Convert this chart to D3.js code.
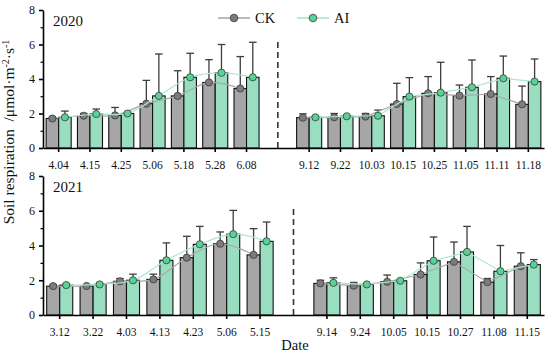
<!DOCTYPE html>
<html>
<head>
<meta charset="utf-8">
<script src="https://cdn.jsdelivr.net/npm/d3@7"></script>
<style>
    body { margin: 0; background: #fff; }
    #chart { width: 550px; height: 355px; }
    text { font-family: "Liberation Serif", "Times New Roman", serif; fill: #111; }
</style>
</head>
<body>
<div id="chart"></div>
<script>
// 2020 campaign
const dates2020a = ["4.04", "4.15", "4.25", "5.06", "5.18", "5.28", "6.08"];
const dates2020b = ["9.12", "9.22", "10.03", "10.15", "10.25", "11.05", "11.11", "11.18"];
const ck2020 = [1.71, 1.87, 1.89, 2.57, 3.02, 3.80, 3.45, 1.76, 1.78, 1.82, 2.55, 3.17, 3.04, 3.13, 2.53];
const ckErr2020 = [0.08, 0.13, 0.46, 1.35, 1.46, 1.32, 1.85, 0.22, 0.22, 0.18, 1.20, 0.97, 0.61, 1.01, 1.06];
const ai2020 = [1.78, 1.97, 2.00, 3.02, 4.10, 4.36, 4.10, 1.78, 1.84, 1.87, 2.98, 3.21, 3.52, 4.04, 3.85];
const aiErr2020 = [0.36, 0.29, 0.05, 2.43, 1.39, 1.64, 2.03, 0.05, 0.05, 0.33, 1.10, 1.76, 1.58, 1.29, 1.31];

// 2021 campaign
const dates2021a = ["3.12", "3.22", "4.03", "4.13", "4.23", "5.06", "5.15"];
const dates2021b = ["9.14", "9.24", "10.05", "10.15", "10.27", "11.08", "11.15"];
const ck2021 = [1.66, 1.67, 1.94, 2.05, 3.30, 4.10, 3.46, 1.82, 1.69, 1.91, 2.33, 3.06, 1.89, 2.81];
const ckErr2021 = [0.08, 0.06, 0.16, 0.30, 1.23, 0.68, 1.51, 0.18, 0.18, 0.39, 0.67, 1.14, 0.21, 0.77];
const ai2021 = [1.72, 1.76, 2.00, 3.15, 4.07, 4.65, 4.24, 1.85, 1.76, 1.97, 3.12, 3.63, 2.52, 2.90];
const aiErr2021 = [0.05, 0.06, 0.35, 1.00, 1.03, 1.37, 1.11, 0.29, 0.04, 0.05, 1.37, 1.47, 1.48, 0.29];

const yMajor = [0, 2, 4, 6, 8];
const yMinor = [1, 3, 5, 7];
const treatments = ["CK", "AI"];

const width = 550, height = 355;
const left = 43, right = 544;

const barFill = { CK: "#a6a6a6", AI: "#9adec1" };
const dotFill = { CK: "#7c7c7c", AI: "#58d296" };
const lineColor = { CK: "#a9a9a9", AI: "#a8e8cb" };

const svg = d3.select("#chart").append("svg")
    .attr("width", width)
    .attr("height", height)
    .attr("viewBox", [0, 0, width, height]);

function drawPanel(cfg) {
    const domain = cfg.datesA.concat(["gap"], cfg.datesB);
    const rows = domain.filter(d => d !== "gap").map((d, i) => ({
        date: d,
        seg: i < cfg.datesA.length ? 0 : 1,
        CK: cfg.ck[i], CKerr: cfg.ckErr[i],
        AI: cfg.ai[i], AIerr: cfg.aiErr[i]
    }));

    const x = d3.scaleBand()
        .domain(domain)
        .range([left, right])
        .paddingInner(cfg.pad)
        .paddingOuter(cfg.pad / 2);
    const x1 = d3.scaleBand().domain(treatments).range([0, x.bandwidth()]);
    const y = d3.scaleLinear().domain([0, 8]).range([cfg.bottom, cfg.top]);

    const g = svg.append("g");

    // dashed separator between spring and autumn campaigns
    g.append("line")
        .attr("x1", x("gap") + x.bandwidth() / 2)
        .attr("x2", x("gap") + x.bandwidth() / 2)
        .attr("y1", y(0))
        .attr("y2", y(6.3))
        .attr("stroke", "#333")
        .attr("stroke-width", 1.6)
        .attr("stroke-dasharray", "6,4");

    const cx = (d, t) => x(d.date) + x1(t) + x1.bandwidth() / 2;

    treatments.forEach(t => {
        g.append("g").selectAll("rect")
            .data(rows)
            .join("rect")
            .attr("x", d => x(d.date) + x1(t))
            .attr("y", d => y(d[t]))
            .attr("width", x1.bandwidth())
            .attr("height", d => y(0) - y(d[t]))
            .attr("fill", barFill[t])
            .attr("stroke", "#111")
            .attr("stroke-width", 1.1);
    });

    treatments.forEach(t => {
        const eg = g.append("g")
            .attr("stroke", "#3d3d3d")
            .attr("stroke-width", 1.3);
        eg.selectAll(".stem")
            .data(rows)
            .join("line")
            .attr("x1", d => cx(d, t))
            .attr("x2", d => cx(d, t))
            .attr("y1", d => y(d[t]))
            .attr("y2", d => y(d[t] + d[t + "err"]));
        eg.selectAll(".cap")
            .data(rows)
            .join("line")
            .attr("x1", d => cx(d, t) - 3.8)
            .attr("x2", d => cx(d, t) + 3.8)
            .attr("y1", d => y(d[t] + d[t + "err"]))
            .attr("y2", d => y(d[t] + d[t + "err"]));
    });

    treatments.forEach(t => {
        [0, 1].forEach(s => {
            const line = d3.line()
                .x(d => cx(d, t))
                .y(d => y(d[t]))
                .curve(s === 0 ? d3.curveCatmullRom : d3.curveLinear);
            g.append("path")
                .attr("d", line(rows.filter(d => d.seg === s)))
                .attr("fill", "none")
                .attr("stroke", lineColor[t])
                .attr("stroke-width", 1.2);
        });
        g.append("g").selectAll("circle")
            .data(rows)
            .join("circle")
            .attr("cx", d => cx(d, t))
            .attr("cy", d => y(d[t]))
            .attr("r", 3.6)
            .attr("fill", dotFill[t])
            .attr("stroke", "#3a3a3a")
            .attr("stroke-width", 0.8);
    });

    // axes
    const xAxis = g.append("g")
        .attr("transform", `translate(0,${y(0)})`)
        .call(d3.axisBottom(x)
            .tickValues(rows.map(d => d.date))
            .tickSize(4)
            .tickSizeOuter(0)
            .tickPadding(9));
    xAxis.selectAll("text").style("font-size", "11.5px").style("font-family", "'Liberation Serif', serif");
    xAxis.selectAll("line, path").attr("stroke", "#000").attr("stroke-width", 1.6);

    const yAxis = g.append("g")
        .attr("transform", `translate(${left},0)`)
        .call(d3.axisLeft(y).tickValues(yMajor).tickSize(4).tickSizeOuter(0).tickPadding(4));
    yAxis.selectAll("text").style("font-size", "12px").style("font-family", "'Liberation Serif', serif");
    yAxis.selectAll("line, path").attr("stroke", "#000").attr("stroke-width", 1.6);

    g.append("g")
        .attr("transform", `translate(${left},0)`)
        .call(d3.axisLeft(y).tickValues(yMinor).tickSize(2.5).tickFormat(""))
        .call(a => a.select(".domain").remove())
        .selectAll("line").attr("stroke", "#000").attr("stroke-width", 1.2);

    g.append("text")
        .attr("x", 53)
        .attr("y", y(8) + 16)
        .style("font-size", "15px")
        .text(cfg.year);
}

drawPanel({
    year: "2020", datesA: dates2020a, datesB: dates2020b,
    ck: ck2020, ckErr: ckErr2020, ai: ai2020, aiErr: aiErr2020,
    top: 10, bottom: 148, pad: 0.2
});

drawPanel({
    year: "2021", datesA: dates2021a, datesB: dates2021b,
    ck: ck2021, ckErr: ckErr2021, ai: ai2021, aiErr: aiErr2021,
    top: 176, bottom: 315, pad: 0.22
});

// legend
const legendItems = [
    { key: "CK", x: 218 },
    { key: "AI", x: 297 }
];
const legend = svg.append("g").selectAll("g")
    .data(legendItems)
    .join("g")
    .attr("transform", d => `translate(${d.x},18)`);
legend.append("line")
    .attr("x1", 0).attr("x2", 32)
    .attr("stroke", d => d.key === "CK" ? "#8c8c8c" : "#8fdcb8")
    .attr("stroke-width", 1.2);
legend.append("circle")
    .attr("cx", 16).attr("r", 3.8)
    .attr("fill", d => dotFill[d.key])
    .attr("stroke", "#3a3a3a")
    .attr("stroke-width", 0.8);
legend.append("text")
    .attr("x", 37)
    .attr("dy", "0.35em")
    .style("font-size", "14.5px")
    .text(d => d.key);

// axis titles
svg.append("text")
    .attr("x", 295)
    .attr("y", 350)
    .attr("text-anchor", "middle")
    .style("font-size", "14.5px")
    .text("Date");

const yTitle = svg.append("text")
    .attr("transform", "translate(14,132) rotate(-90)")
    .attr("text-anchor", "middle")
    .style("font-size", "15.5px");
yTitle.append("tspan").text("Soil respiration\u00a0 /\u03bcmol\u00b7m");
yTitle.append("tspan").attr("dy", -5).style("font-size", "10px").text("-2");
yTitle.append("tspan").attr("dy", 5).text("\u00b7s");
yTitle.append("tspan").attr("dy", -5).style("font-size", "10px").text("-1");
</script>
</body>
</html>
